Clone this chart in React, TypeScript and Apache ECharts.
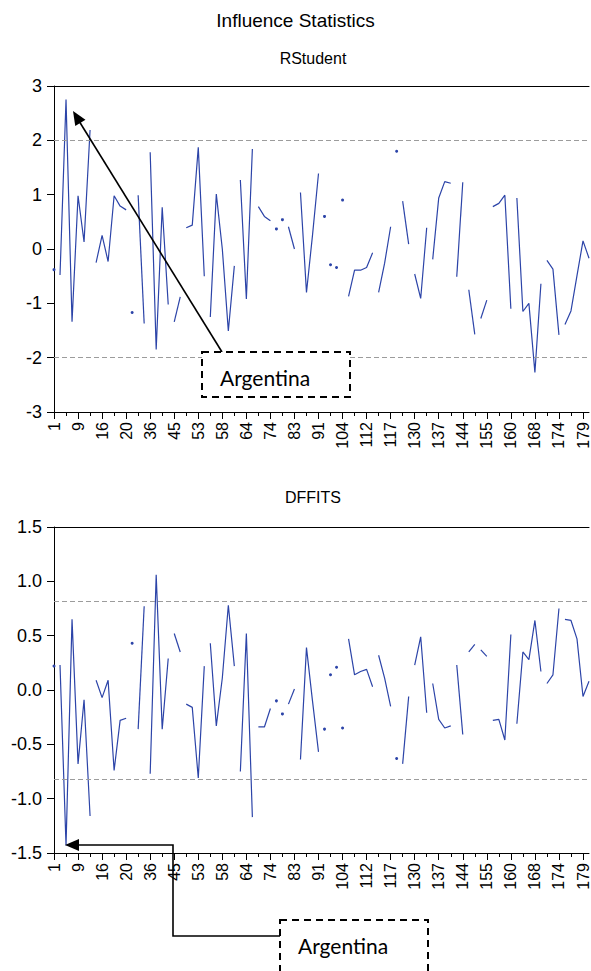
import React, { useEffect, useRef } from 'react';
import * as echarts from 'echarts';

// Observation-number tick labels (one every 4 plotted observations)
const tickLabels = ['1', '9', '16', '20', '36', '45', '53', '58', '64', '74', '83', '91', '104', '112', '117', '130', '137', '144', '155', '160', '168', '174', '179'];
const OBS_PER_LABEL = 4;

// Sizes of the consecutive runs that are joined by a line (lines break between runs)
const groupSizes = [1, 6, 6, 1, 2, 4, 2, 4, 5, 3, 3, 1, 1, 2, 4, 1, 1, 1, 1, 5, 3, 1, 2, 3, 4, 2, 2, 2, 4, 5, 3, 5];

const rstudent = [
  -0.38, -0.48, 2.75, -1.34, 0.98, 0.13, 2.19, -0.25, 0.25, -0.23,
  0.98, 0.79, 0.72, -1.17, 0.99, -1.37, 1.78, -1.85, 0.77, -1.02,
  -1.34, -0.88, 0.39, 0.44, 1.87, -0.5, -1.25, 1.01, 0.0, -1.51,
  -0.31, 1.27, -0.92, 1.84, 0.78, 0.6, 0.52, 0.37, 0.54, 0.41,
  0.0, 1.04, -0.8, 0.25, 1.39, 0.6, -0.29, -0.34, 0.9, -0.87,
  -0.39, -0.39, -0.34, -0.07, -0.8, -0.26, 0.41, 1.8, 0.88, 0.09,
  -0.46, -0.91, 0.39, -0.19, 0.94, 1.24, 1.21, -0.51, 1.23, -0.75,
  -1.57, -1.28, -0.94, 0.78, 0.84, 0.99, -1.1, 0.94, -1.15, -1.0,
  -2.27, -0.64, -0.21, -0.37, -1.58, -1.39, -1.14, -0.49, 0.15, -0.17,
];

const dffits = [
  0.22, 0.23, -1.43, 0.65, -0.68, -0.09, -1.16, 0.09, -0.07, 0.09,
  -0.74, -0.28, -0.26, 0.43, -0.36, 0.77, -0.77, 1.06, -0.36, 0.29,
  0.52, 0.35, -0.13, -0.16, -0.81, 0.22, 0.43, -0.33, 0.11, 0.78,
  0.22, -0.75, 0.52, -1.17, -0.34, -0.34, -0.17, -0.1, -0.22, -0.13,
  0.01, -0.64, 0.39, -0.1, -0.57, -0.36, 0.14, 0.21, -0.35, 0.47,
  0.14, 0.17, 0.19, 0.03, 0.32, 0.11, -0.15, -0.63, -0.68, -0.06,
  0.23, 0.49, -0.21, 0.06, -0.27, -0.35, -0.33, 0.23, -0.41, 0.35,
  0.42, 0.37, 0.31, -0.28, -0.27, -0.46, 0.51, -0.31, 0.35, 0.28,
  0.64, 0.17, 0.06, 0.14, 0.75, 0.65, 0.64, 0.47, -0.06, 0.08,
];

const rstudentBounds = [2, -2];
const dffitsBounds = [0.82, -0.82];

const mainTitle = 'Influence Statistics';
const panelTitles = ['RStudent', 'DFFITS'];
const annotationText = 'Argentina';

const LINE_COLOR = '#2c44a8';
const FONT = '"Liberation Sans", Arial, sans-serif';
const ANN_FONT = 'Lato, "Open Sans", sans-serif';
const observations = rstudent.map((_, i) => String(i));

function segments(values: number[]) {
  const out: number[][][] = [];
  let start = 0;
  for (const size of groupSizes) {
    out.push(values.slice(start, start + size).map((v, k) => [start + k, v]));
    start += size;
  }
  return out;
}

function panelSeries(values: number[], bounds: number[], axisIndex: number) {
  return segments(values).map((data, k) => ({
    type: 'line',
    xAxisIndex: axisIndex * 3,
    yAxisIndex: axisIndex,
    data,
    showSymbol: data.length === 1,
    showAllSymbol: true,
    symbol: 'circle',
    symbolSize: 3,
    itemStyle: { color: LINE_COLOR },
    lineStyle: { color: LINE_COLOR, width: 1.2 },
    silent: true,
    z: 3,
    markLine:
      k === 0
        ? {
            silent: true,
            symbol: 'none',
            label: { show: false },
            lineStyle: { color: '#9c9c9c', type: [5, 3], width: 1 },
            data: bounds.map((b) => ({ yAxis: b })),
          }
        : undefined,
  }));
}

function arrowHead(tip: number[], from: number[], len: number, half: number) {
  const dx = tip[0] - from[0];
  const dy = tip[1] - from[1];
  const d = Math.hypot(dx, dy);
  const ux = dx / d;
  const uy = dy / d;
  const bx = tip[0] - ux * len;
  const by = tip[1] - uy * len;
  return [tip, [bx - uy * half, by + ux * half], [bx + uy * half, by - ux * half]];
}

const W = 591;
const H = 971;
const GRID_LEFT = 54;
const GRID_RIGHT = 1;
const PANEL_H = 326;
const GRID_TOPS = [86, 527];

export default function App() {
  const ref = useRef<HTMLDivElement>(null);
  useEffect(() => {
    if (!ref.current) return;
    const chart = echarts.init(ref.current, null, { renderer: 'svg' });

    const grids = GRID_TOPS.map((top) => ({ left: GRID_LEFT, right: GRID_RIGHT, top, height: PANEL_H }));

    const xAxes: any[] = [];
    GRID_TOPS.forEach((_, g) => {
      xAxes.push({
        type: 'category',
        gridIndex: g,
        position: 'bottom',
        data: observations,
        boundaryGap: false,
        axisLine: { show: true, onZero: false, lineStyle: { color: '#000', width: 1 } },
        axisTick: { show: true, interval: 1, length: 4, lineStyle: { color: '#000' } },
        axisLabel: {
          interval: OBS_PER_LABEL - 1,
          rotate: 90,
          fontSize: 16,
          fontFamily: FONT,
          color: '#000',
          margin: 10,
          formatter: (_v: string, idx: number) => tickLabels[idx / OBS_PER_LABEL] ?? '',
        },
        splitLine: { show: false },
      });
      xAxes.push({
        type: 'category',
        gridIndex: g,
        position: 'bottom',
        data: observations,
        boundaryGap: false,
        axisLine: { show: false, onZero: false },
        axisTick: { show: true, interval: OBS_PER_LABEL - 1, length: 7, lineStyle: { color: '#000' } },
        axisLabel: { show: false },
        splitLine: { show: false },
      });
      xAxes.push({
        type: 'category',
        gridIndex: g,
        position: 'top',
        data: observations,
        boundaryGap: false,
        axisLine: { show: true, onZero: false, lineStyle: { color: '#000', width: 1 } },
        axisTick: { show: false },
        axisLabel: { show: false },
        splitLine: { show: false },
      });
    });

    const yAxisBase = {
      type: 'value',
      axisLine: { show: true, onZero: false, lineStyle: { color: '#000', width: 1 } },
      axisTick: { show: true, length: 7, lineStyle: { color: '#000' } },
      splitLine: { show: false },
    };
    const yAxes = [
      {
        ...yAxisBase,
        gridIndex: 0,
        min: -3,
        max: 3,
        interval: 1,
        axisLabel: { fontSize: 18, fontFamily: FONT, color: '#000', margin: 12 },
      },
      {
        ...yAxisBase,
        gridIndex: 1,
        min: -1.5,
        max: 1.5,
        interval: 0.5,
        axisLabel: {
          fontSize: 18,
          fontFamily: FONT,
          color: '#000',
          margin: 12,
          formatter: (v: number) => v.toFixed(1),
        },
      },
    ];

    const panelTitleY = [58, 497];
    const panelTitleX = 313;

    const topTail = [222, 352];
    const topTip = [73, 111];
    const botTip = [65, 845];
    const botCorner = [173, 845];

    const graphic: any[] = [
      {
        type: 'text',
        x: W / 2,
        y: 20,
        style: { text: mainTitle, fontSize: 19, fontFamily: FONT, fill: '#000', align: 'center', verticalAlign: 'middle' },
      },
      ...panelTitles.map((t, i) => ({
        type: 'text',
        x: panelTitleX,
        y: panelTitleY[i],
        style: { text: t, fontSize: 16, fontFamily: FONT, fill: '#000', align: 'center', verticalAlign: 'middle' },
      })),
      // top annotation
      {
        type: 'line',
        z: 50,
        shape: { x1: topTail[0], y1: topTail[1], x2: topTip[0] + 6, y2: topTip[1] + 10 },
        style: { stroke: '#000', lineWidth: 1.6 },
      },
      {
        type: 'polygon',
        z: 50,
        shape: { points: arrowHead(topTip, topTail, 14, 6) },
        style: { fill: '#000' },
      },
      {
        type: 'rect',
        z: 50,
        shape: { x: 202, y: 352, width: 148, height: 45 },
        style: { fill: '#fff', stroke: '#000', lineWidth: 2, lineDash: [7, 5] },
      },
      {
        type: 'text',
        z: 51,
        x: 220,
        y: 377,
        style: { text: annotationText, fontSize: 21, fontFamily: ANN_FONT, fill: '#000', align: 'left', verticalAlign: 'middle' },
      },
      // bottom annotation
      {
        type: 'polyline',
        z: 50,
        shape: { points: [[280, 936], [botCorner[0], 936], botCorner, [botTip[0] + 10, botTip[1]]] },
        style: { stroke: '#000', lineWidth: 1.6, fill: 'none' },
      },
      {
        type: 'polygon',
        z: 50,
        shape: { points: arrowHead(botTip, botCorner, 14, 6) },
        style: { fill: '#000' },
      },
      {
        type: 'rect',
        z: 50,
        shape: { x: 280, y: 920, width: 148, height: 52 },
        style: { fill: '#fff', stroke: '#000', lineWidth: 2, lineDash: [7, 5] },
      },
      {
        type: 'text',
        z: 51,
        x: 298,
        y: 945,
        style: { text: annotationText, fontSize: 21, fontFamily: ANN_FONT, fill: '#000', align: 'left', verticalAlign: 'middle' },
      },
    ];

    chart.setOption({
      animation: false,
      backgroundColor: '#fff',
      grid: grids,
      xAxis: xAxes,
      yAxis: yAxes,
      series: [...panelSeries(rstudent, rstudentBounds, 0), ...panelSeries(dffits, dffitsBounds, 1)],
      graphic,
    });
    return () => chart.dispose();
  }, []);

  return (
    <div
      ref={ref}
      style={{ position: 'absolute', left: 0, top: 0, width: W, height: H, background: '#fff' }}
    />
  );
}
